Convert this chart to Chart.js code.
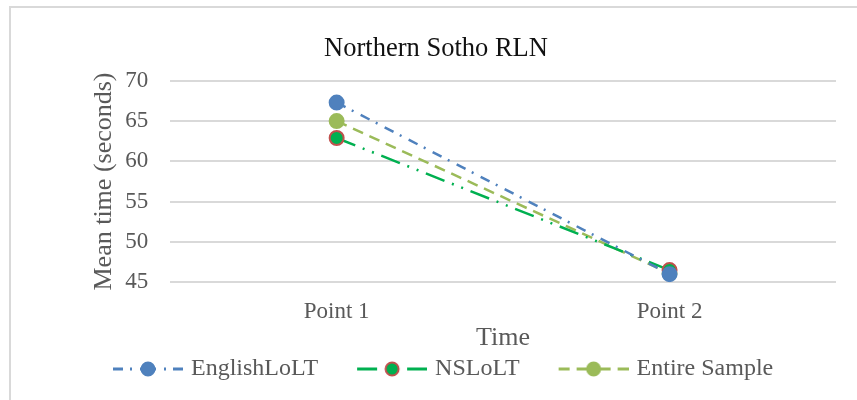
<!DOCTYPE html>
<html>
<head>
<meta charset="utf-8">
<script src="https://cdn.jsdelivr.net/npm/chart.js@4"></script>
<style>
  html, body { margin: 0; padding: 0; background: #fff; }
  #wrap { position: relative; width: 857px; height: 400px; overflow: hidden; }
  #frame { position: absolute; left: 9px; top: 6px; width: 900px; height: 450px;
           border-left: 2px solid #d9d9d9; border-top: 2px solid #d9d9d9; }
  canvas { position: absolute; left: 0; top: 0; }
</style>
</head>
<body>
<div id="wrap">
  <div id="frame"></div>
  <canvas id="chart" width="857" height="400"></canvas>
</div>
<script>
// ── Datos ──────────────────────────────────────────────
const categorias   = ['Point 1', 'Point 2'];
const englishLoLT  = [67.3, 46.0];
const nsLoLT       = [62.9, 46.5];
const entireSample = [65.0, 46.1];
const yTicks       = [45, 50, 55, 60, 65, 70];

const FONT = "'Liberation Serif', 'Times New Roman', serif";
const GRIS = '#595959';
const HUECO = 40;   // espacio transparente a la izquierda de cada muestra

// muestra de leyenda: línea discontinua simétrica + círculo al centro
function muestra(color, dash, borde) {
    const c = document.createElement('canvas');
    c.width = 70 + HUECO; c.height = 18;
    const g = c.getContext('2d');
    g.translate(HUECO, 0);
    g.strokeStyle = color;
    g.lineWidth = 3;
    g.setLineDash(dash);
    g.beginPath(); g.moveTo(0, 9); g.lineTo(35, 9); g.stroke();
    g.beginPath(); g.moveTo(70, 9); g.lineTo(35, 9); g.stroke();
    g.setLineDash([]);
    g.beginPath(); g.arc(35, 9, 6.5, 0, Math.PI * 2);
    g.fillStyle = color; g.fill();
    g.lineWidth = 2; g.strokeStyle = borde; g.stroke();
    return c;
}

const series = [
    { label: 'EnglishLoLT',   data: englishLoLT,  color: '#4F81BD', borde: '#4F81BD', dash: [10, 7, 2, 8] },
    { label: 'NSLoLT',        data: nsLoLT,       color: '#00B050', borde: '#C0504D', dash: [20, 8, 2, 8, 2, 8] },
    { label: 'Entire Sample', data: entireSample, color: '#9BBB59', borde: '#9BBB59', dash: [11, 7] },
];

// centrar el título sobre todo el gráfico (como en el original)
const centrarTitulo = {
    id: 'centrarTitulo',
    afterLayout(chart) {
        const t = chart.titleBlock;
        if (t) { t.left = 16; t.right = 856; }
    }
};

const ctx = document.getElementById('chart').getContext('2d');
new Chart(ctx, {
    type: 'line',
    data: {
        labels: categorias,
        datasets: series.map(s => ({
            label: s.label,
            data: s.data,
            borderColor: s.color,
            borderWidth: 2.5,
            borderDash: s.dash,
            pointRadius: 7,
            pointBackgroundColor: s.color,
            pointBorderColor: s.borde,
            pointBorderWidth: 2,
            tension: 0,
        }))
    },
    plugins: [centrarTitulo],
    options: {
        responsive: false,
        animation: false,
        layout: { padding: { left: 74, right: 21, top: 20, bottom: 9 } },
        plugins: {
            title: {
                display: true, text: 'Northern Sotho RLN', color: '#111',
                font: { family: FONT, size: 26.5, weight: 'normal' },
                padding: { top: 13, bottom: 16 }
            },
            legend: {
                position: 'bottom',
                align: 'start',
                labels: {
                    usePointStyle: true,
                    pointStyleWidth: 62 + HUECO,
                    color: GRIS,
                    font: { family: FONT, size: 24 },
                    padding: 3,
                    generateLabels: () => series.map(s => ({
                        text: s.label,
                        pointStyle: muestra(s.color, s.dash, s.borde),
                        fontColor: GRIS,
                        hidden: false,
                        lineWidth: 0,
                    }))
                }
            },
            tooltip: { enabled: false }
        },
        scales: {
            x: {
                offset: true,
                grid: { display: false, drawTicks: false },
                border: { display: false },
                ticks: { color: GRIS, font: { family: FONT, size: 23 }, padding: 16, maxRotation: 0, autoSkip: false },
                title: { display: true, text: 'Time', color: GRIS, font: { family: FONT, size: 26 }, padding: { top: -19, bottom: 0 } }
            },
            y: {
                min: 45, max: 70,
                afterBuildTicks: (axis) => { axis.ticks = yTicks.map(v => ({ value: v })); },
                grid: { color: '#d9d9d9', lineWidth: 2, drawTicks: false },
                border: { display: false },
                ticks: { color: GRIS, font: { family: FONT, size: 23 }, padding: 22, autoSkip: false },
                title: { display: true, text: 'Mean time (seconds)', color: GRIS, font: { family: FONT, size: 26 }, padding: { top: 15, bottom: -17 } }
            }
        }
    }
});
</script>
</body>
</html>
